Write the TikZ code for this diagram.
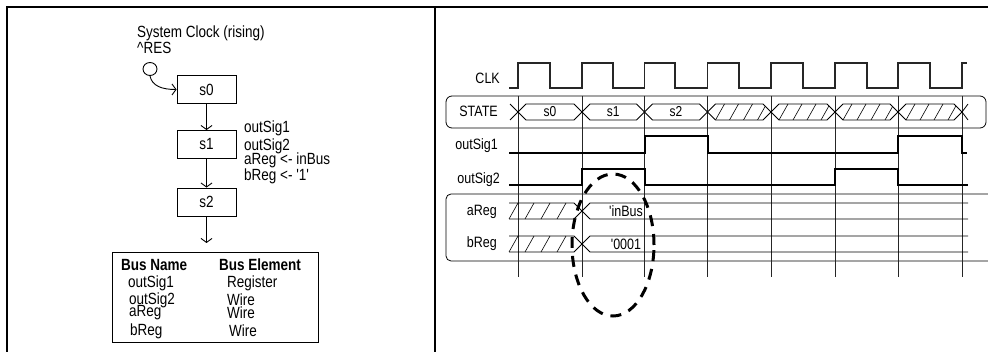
\documentclass[tikz,border=0pt]{standalone}
\usepackage{fontspec}
\setmainfont{Liberation Sans}
\usepackage{graphicx}
\usetikzlibrary{arrows.meta,shapes.geometric}
\newcommand\tx[1]{\scalebox{1}[1.2]{#1}}
\begin{document}
\begin{tikzpicture}[x=1pt,y=-1pt,
  lt/.style={inner sep=0pt,font=\fontsize{13.5}{14}\selectfont},
  ltb/.style={inner sep=0pt,font=\fontsize{13.5}{14}\selectfont\bfseries},
  rt/.style={inner sep=0pt,font=\fontsize{12.5}{13}\selectfont},
  stbox/.style={draw,line width=0.9pt,minimum width=59pt,minimum height=28pt,inner sep=0pt,font=\fontsize{13.5}{14}\selectfont},
  arr/.style={line width=0.9pt,-{Straight Barb[length=4pt,width=11pt]}},
  gridln/.style={line width=0.9pt,black!85},
  wave/.style={line width=2pt},
  bus/.style={line width=0.8pt},
  hatch/.style={line width=0.6pt}
]
\useasboundingbox (0,0) rectangle (988,352);
% frame
\draw[line width=1.5pt] (7,352) -- (7,7) -- (988,7);
\draw[line width=1.2pt] (435,7) -- (435,352);

% ---------- left panel: state machine ----------
\node[lt,anchor=west] (title) at (137,33) {\tx{System Clock (rising)}};
\node[lt,anchor=west] (res) at (137,48) {\tx{\textasciicircum RES}};
\node[draw,ellipse,line width=0.9pt,minimum width=14pt,minimum height=13pt,inner sep=0pt] (init) at (150,69) {};
\node[stbox] (s0) at (206.5,89.5) {\tx{s0}};
\node[stbox] (s1) at (206.5,144.5) {\tx{s1}};
\node[stbox] (s2) at (206.5,202) {\tx{s2}};
\coordinate (s2out) at (206.5,243);
\draw[arr] (init.south) .. controls (152,86) and (162,89.5) .. (s0.west);
\draw[arr] (s0) -- (s1);
\draw[arr] (s1) -- (s2);
\draw[arr] (s2) -- (s2out);
\node[lt,anchor=west] (a1) at (244,128) {\tx{outSig1}};
\node[lt,anchor=west] (a2) at (244,146) {\tx{outSig2}};
\node[lt,anchor=west] (a3) at (244,160) {\tx{aReg <- inBus}};
\node[lt,anchor=west] (a4) at (244,176) {\tx{bReg <- \textquotesingle 1\textquotesingle}};

\node[draw,line width=0.9pt,minimum width=206pt,minimum height=90pt,inner sep=0pt] (tbl) at (215,297) {};
\node[ltb,anchor=west] (h1) at (121,265) {\tx{Bus Name}};
\node[ltb,anchor=west] (h2) at (219,265) {\tx{Bus Element}};
\node[lt,anchor=west] (n1) at (128,283) {\tx{outSig1}};
\node[lt,anchor=west] (e1) at (227,283) {\tx{Register}};
\node[lt,anchor=west] (n2) at (129,300) {\tx{outSig2}};
\node[lt,anchor=west] (e2) at (227,300) {\tx{Wire}};
\node[lt,anchor=west] (n3) at (129,313) {\tx{aReg}};
\node[lt,anchor=west] (e3) at (227,313) {\tx{Wire}};
\node[lt,anchor=west] (n4) at (130,331) {\tx{bReg}};
\node[lt,anchor=west] (e4) at (229,331) {\tx{Wire}};

% ---------- right panel: timing diagram ----------
\node[rt,anchor=east] (clk) at (500,78) {\tx{CLK}};
\node[rt,anchor=east] (stl) at (498,111) {\tx{STATE}};
\node[rt,anchor=east] (o1) at (498,146) {\tx{outSig1}};
\node[rt,anchor=east] (o2) at (500,180) {\tx{outSig2}};
\node[rt,anchor=east] (ar) at (497,212) {\tx{aReg}};
\node[rt,anchor=east] (br) at (497,244) {\tx{bReg}};

% group boxes
\draw[bus,rounded corners=6pt] (446,96) rectangle (986,128);
\draw[bus,rounded corners=5pt] (988,194) -- (446,194) -- (446,261) -- (988,261);

% grid
\foreach \x in {518,582,644.5,707.5,771,835,898,962}
  \draw[gridln] (\x,96) -- (\x,277);

% clock
\draw[line width=1.1pt,black!85] (509,88)
  -- (518,88) -- (518,63) -- (550,63) -- (550,88)
  -- (582,88) -- (582,63) -- (613,63) -- (613,88)
  -- (644.5,88) -- (644.5,63) -- (675,63) -- (675,88)
  -- (707.5,88) -- (707.5,63) -- (739,63) -- (739,88)
  -- (771,88) -- (771,63) -- (803,63) -- (803,88)
  -- (835,88) -- (835,63) -- (867,63) -- (867,88)
  -- (898,88) -- (898,63) -- (930,63) -- (930,88)
  -- (962,88) -- (962,63) -- (967,63);

% STATE bus
\draw[bus] (510,104) -- (518,112) -- (510,120);
\foreach \a/\b/\lab in {518/582/s0,582/644.5/s1,644.5/707.5/s2} {
  \draw[bus,fill=white] (\a,112) -- (\a+8,104) -- (\b-8,104) -- (\b,112) -- (\b-8,120) -- (\a+8,120) -- cycle;
  \node[rt,font=\fontsize{12}{12}\selectfont] (st\lab) at ({(\a+\b)/2},112) {\tx{\lab}};
}
\foreach \a/\b in {707.5/771,771/835,835/898,898/962} {
  \draw[bus,fill=white] (\a,112) -- (\a+8,104) -- (\b-8,104) -- (\b,112) -- (\b-8,120) -- (\a+8,120) -- cycle;
  \begin{scope}
    \clip (\a,112) -- (\a+8,104) -- (\b-8,104) -- (\b,112) -- (\b-8,120) -- (\a+8,120) -- cycle;
    \foreach \o in {8,22,36,50} \draw[hatch] (\a+\o,120) -- (\a+\o+9,104);
  \end{scope}
}
\draw[bus] (962,112) -- (968,104);
\draw[bus] (962,112) -- (968,120);

% outSig1, outSig2
\draw[wave] (509,153) -- (644.5,153) -- (644.5,136) -- (707.5,136) -- (707.5,153)
  -- (898,153) -- (898,136) -- (962,136) -- (962,153) -- (967,153);
\draw[wave] (509,185) -- (582,185) -- (582,169) -- (644.5,169) -- (644.5,185)
  -- (835,185) -- (835,169) -- (898,169) -- (898,185) -- (968,185);

% aReg / bReg buses
\foreach \t/\m/\bt/\val/\nm in {203/211/219/\textquotesingle inBus/va,236/244/252/\textquotesingle 0001/vb} {
  \draw[bus] (509,\t) -- (574,\t) -- (582,\m) -- (574,\bt) -- (509,\bt);
  \foreach \j in {0,1,2,3} \draw[hatch] (509+16*\j,\bt) -- (518+16*\j,\t);
  \draw[bus] (968,\t) -- (590,\t) -- (582,\m) -- (590,\bt) -- (968,\bt);
  \node[rt] (\nm) at (626,\m) {\tx{\val}};
}

% dashed ellipse highlight
\draw[line width=3pt,dash pattern=on 11pt off 8pt] (613,245) ellipse [x radius=41pt,y radius=71pt];
\end{tikzpicture}
\end{document}
